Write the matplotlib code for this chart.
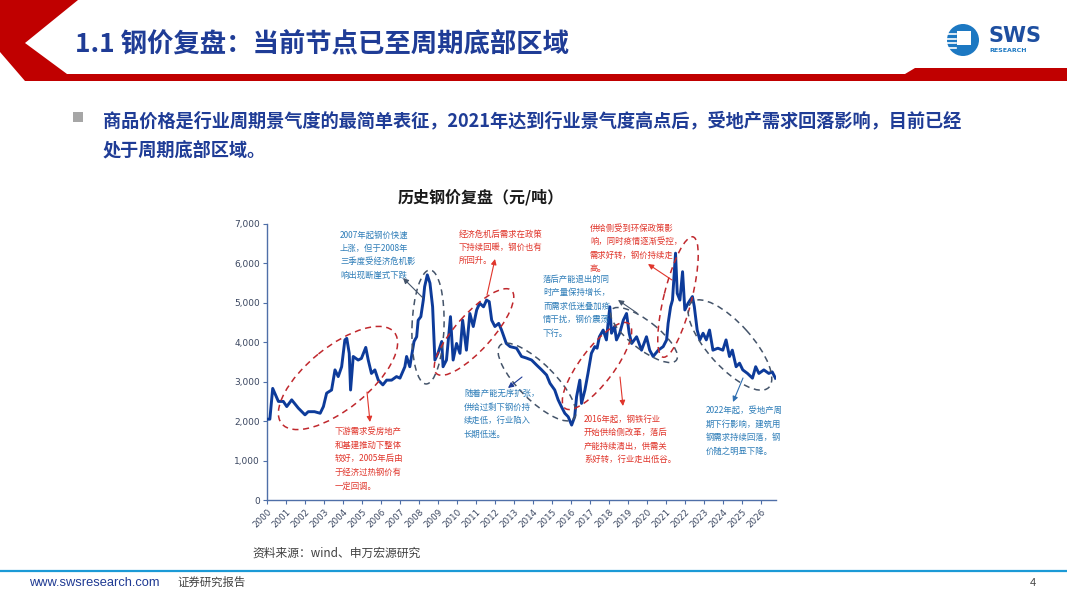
import matplotlib
matplotlib.use("Agg")
import matplotlib.pyplot as plt
from matplotlib.patches import Ellipse, Polygon, Circle, Rectangle

plt.rcParams['font.family'] = ['Noto Sans CJK SC', 'DejaVu Sans']

# ---- data ----
t = [2000.0, 2000.15, 2000.3, 2000.42, 2000.6, 2000.86, 2001.04, 2001.3, 2001.65, 2002.0,
     2002.17, 2002.5, 2002.8, 2002.97, 2003.14, 2003.4, 2003.58, 2003.75, 2003.93, 2004.1,
     2004.2, 2004.33, 2004.4, 2004.54, 2004.8, 2004.97, 2005.2, 2005.33, 2005.5, 2005.68,
     2005.86, 2006.1, 2006.3, 2006.56, 2006.82, 2007.0, 2007.26, 2007.35, 2007.52, 2007.74,
     2007.88, 2007.96, 2008.1, 2008.23, 2008.3, 2008.44, 2008.58, 2008.72, 2008.84, 2009.0,
     2009.2, 2009.27, 2009.45, 2009.66, 2009.8, 2009.98, 2010.16, 2010.3, 2010.5, 2010.68,
     2010.86, 2011.04, 2011.2, 2011.4, 2011.56, 2011.7, 2011.83, 2012.0, 2012.2, 2012.35,
     2012.6, 2012.8, 2013.14, 2013.4, 2013.66, 2013.93, 2014.2, 2014.46, 2014.72, 2014.9,
     2015.15, 2015.33, 2015.5, 2015.68, 2015.86, 2016.04, 2016.2, 2016.3, 2016.47, 2016.56,
     2016.74, 2016.9, 2017.08, 2017.26, 2017.38, 2017.5, 2017.7, 2017.87, 2018.05, 2018.14,
     2018.3, 2018.4, 2018.57, 2018.76, 2018.93, 2019.07, 2019.2, 2019.46, 2019.72, 2019.98,
     2020.15, 2020.33, 2020.6, 2020.86, 2021.04, 2021.12, 2021.25, 2021.35, 2021.44, 2021.51,
     2021.6, 2021.74, 2021.88, 2022.0, 2022.17, 2022.4, 2022.5, 2022.65, 2022.79, 2022.96,
     2023.13, 2023.3, 2023.48, 2023.74, 2024.0, 2024.17, 2024.35, 2024.5, 2024.7, 2024.88,
     2025.05, 2025.3, 2025.56, 2025.73, 2025.9, 2026.16, 2026.42, 2026.6, 2026.77]
price = [2050, 2050, 2830, 2700, 2500, 2500, 2370, 2540, 2330, 2160,
         2240, 2240, 2200, 2370, 2710, 2790, 3300, 3130, 3380, 4060,
         4100, 3720, 2790, 3640, 3550, 3590, 3870, 3550, 3210, 3300,
         3040, 2920, 3040, 3040, 3130, 3090, 3380, 3640, 3380, 4020,
         4140, 4560, 4650, 5070, 5410, 5710, 5500, 4900, 3550, 3720,
         4020, 3380, 3550, 4650, 3550, 3970, 3720, 4560, 3800, 4730,
         4400, 4820, 4990, 4900, 5070, 5030, 4560, 4400, 4480, 4310,
         3970, 3890, 3850, 3640, 3600, 3550, 3420, 3300, 3170, 2960,
         2790, 2540, 2370, 2200, 2110, 1900, 2110, 2620, 3040, 2450,
         2790, 3210, 3720, 3890, 3850, 4140, 4310, 4060, 4900, 4230,
         4400, 4060, 4230, 4560, 4730, 4230, 3970, 4140, 3800, 4140,
         3800, 3640, 3800, 3890, 4060, 4480, 4900, 5070, 5750, 6260,
         5240, 5070, 5790, 4820, 4990, 5160, 4900, 4310, 4060, 4230,
         4060, 4310, 3800, 3850, 3800, 4060, 3640, 3800, 3380, 3470,
         3300, 3210, 3090, 3380, 3210, 3300, 3210, 3250, 3090]
years = list(range(2000, 2027))
yticks = [0, 1000, 2000, 3000, 4000, 5000, 6000, 7000]

title = "1.1 钢价复盘：当前节点已至周期底部区域"
bullet_lines = ["商品价格是行业周期景气度的最简单表征，2021年达到行业景气度高点后，受地产需求回落影响，目前已经",
                "处于周期底部区域。"]
chart_title = "历史钢价复盘（元/吨）"

RED = "#E0352B"
BLUE_TXT = "#2E7DB8"
NAVY = "#1F3C96"
GRAY_E = "#44546A"
RED_E = "#C0282D"

W, H = 1067, 600
fig = plt.figure(figsize=(W / 100, H / 100), dpi=100)

# ---- chart axes ----
ax = fig.add_axes([267 / W, 1 - 500 / H, (776 - 267) / W, (500 - 224) / H])
ax.plot(t, price, color="#0D3B9A", lw=2.1, solid_joinstyle='round', zorder=3)
ax.set_xlim(2000, 2026.8)
ax.set_ylim(0, 7000)
ax.set_xticks(years)
ax.set_xticklabels([str(y) for y in years], rotation=45, ha='right', va='top',
                   rotation_mode='anchor', fontsize=6.3, color="#3A4660", family='DejaVu Sans')
ax.set_yticks(yticks)
ax.set_yticklabels([f"{v:,}" for v in yticks], fontsize=6.5, color="#3A4660", family='DejaVu Sans')
for s in ['top', 'right']:
    ax.spines[s].set_visible(False)
for s in ['left', 'bottom']:
    ax.spines[s].set_color("#4F6FA8")
    ax.spines[s].set_linewidth(1.0)
ax.tick_params(axis='both', length=3, width=0.8, color="#4F6FA8", pad=2)
ax.patch.set_alpha(0)

# ---- overlay in pixel coordinates for slide decoration & annotations ----
ov = fig.add_axes([0, 0, 1, 1], zorder=5)
ov.set_xlim(0, W)
ov.set_ylim(H, 0)
ov.axis('off')
ov.patch.set_alpha(0)

# header chevron and red bar
ov.add_patch(Polygon([(0, 0), (78, 0), (25, 43), (67, 74), (905, 74), (915, 68), (W, 68),
                      (W, 81), (25, 81), (0, 52)], closed=True, color="#C00000", lw=0))
ov.text(75, 45, title, fontsize=19, fontweight='bold', color=NAVY, va='center', ha='left')

# logo
ov.add_patch(Circle((963, 40), 16, color="#1C78C2", lw=0))
ov.add_patch(Rectangle((957, 31), 14, 14, color="white", lw=0))
for yy in [34, 38.5, 43, 47.5]:
    ov.plot([946, 956], [yy, yy], color="white", lw=1.2)
ov.text(988, 36, "SWS", fontsize=15, fontweight='bold', color="#1E4FA0", va='center', ha='left',
        family='DejaVu Sans')
ov.text(989, 50, "RESEARCH", fontsize=4.5, fontweight='bold', color="#1C78C2", va='center',
        ha='left', family='DejaVu Sans')

# bullet text
ov.add_patch(Rectangle((73, 112), 10, 10, color="#A6A6A6", lw=0))
ov.text(103, 121, bullet_lines[0], fontsize=13.1, fontweight='bold', color=NAVY, va='center')
ov.text(103, 150, bullet_lines[1], fontsize=13.1, fontweight='bold', color=NAVY, va='center')

ov.text(481, 197, chart_title, fontsize=11.5, fontweight='bold', color="#1A1A1A",
        va='center', ha='center')

# ellipses: centre x, centre y (px, down), width, height, angle (ccw), colour
ellipses = [(338, 378, 145, 62, 39, RED_E),
            (428, 327, 114, 32, 88, GRAY_E),
            (474, 332, 112, 36, 48, RED_E),
            (537, 382, 104, 36, -45, GRAY_E),
            (597, 366, 106, 34, 53, RED_E),
            (644, 335, 82, 28, -38, GRAY_E),
            (678, 297, 124, 28, 76, RED_E),
            (730, 345, 115, 44, -48, GRAY_E)]
for cx, cy, w, h, ang, c in ellipses:
    ov.add_patch(Ellipse((cx, cy), w, h, angle=-ang, fill=False, edgecolor=c,
                         lw=1.1, linestyle=(0, (4, 3)), zorder=6))

# arrows: tail -> head
arrows = [((423, 298), (403, 278), "#44546A"),
          ((487, 295), (495, 259), RED),
          ((672, 280), (648, 264), RED),
          ((637, 313), (618, 300), "#44546A"),
          ((522, 377), (508, 388), "#1F3C96"),
          ((367, 392), (370, 422), RED),
          ((620, 377), (623, 406), RED),
          ((743, 378), (733, 402), "#2E6DB0")]
for tail, head, c in arrows:
    ov.annotate("", xy=head, xytext=tail,
                arrowprops=dict(arrowstyle='-|>', color=c, lw=0.8, mutation_scale=8,
                                shrinkA=0, shrinkB=0), zorder=7)

# annotation texts: x, first line y, step, colour, lines
notes = [(340, 235, 13.3, BLUE_TXT, ["2007年起钢价快速", "上涨，但于2008年", "三季度受经济危机影", "响出现断崖式下跌"]),
         (459, 234, 13.3, RED, ["经济危机后需求在政策", "下持续回暖，钢价也有", "所回升。"]),
         (590, 228, 13.6, RED, ["供给侧受到环保政策影", "响，同时疫情逐渐受控，", "需求好转，钢价持续走", "高。"]),
         (543, 279, 13.6, BLUE_TXT, ["落后产能退出的同", "时产量保持增长，", "而需求低迷叠加疫", "情干扰，钢价震荡", "下行。"]),
         (464, 393.5, 13.5, BLUE_TXT, ["随着产能无序扩张，", "供给过剩下钢价持", "续走低，行业陷入", "长期低迷。"]),
         (335, 431.5, 13.6, RED, ["下游需求受房地产", "和基建推动下整体", "较好，2005年后由", "于经济过热钢价有", "一定回调。"]),
         (584, 419, 13.5, RED, ["2016年起，钢铁行业", "开始供给侧改革，落后", "产能持续清出，供需关", "系好转，行业走出低谷。"]),
         (706, 410.5, 13.5, BLUE_TXT, ["2022年起，受地产周", "期下行影响，建筑用", "钢需求持续回落，钢", "价随之明显下降。"])]
for x, y0, step, c, lines in notes:
    for i, line in enumerate(lines):
        ov.text(x, y0 + i * step, line, fontsize=6, color=c, va='center', ha='left', zorder=8)

# source and footer
ov.text(252, 553, "资料来源：wind、申万宏源研究", fontsize=8.5, color="#404040", va='center')
ov.plot([0, W], [571, 571], color="#1B9AD6", lw=1.6)
ov.text(29, 583, "www.swsresearch.com", fontsize=9.3, color="#1F3A93", va='center',
        family=['Liberation Sans', 'DejaVu Sans'])
ov.text(177, 582, "证券研究报告", fontsize=8.2, color="#404040", va='center')
ov.text(1030, 583, "4", fontsize=8, color="#404040", va='center',
        family=['Liberation Sans', 'DejaVu Sans'])

fig.savefig("out.png", dpi=100)
